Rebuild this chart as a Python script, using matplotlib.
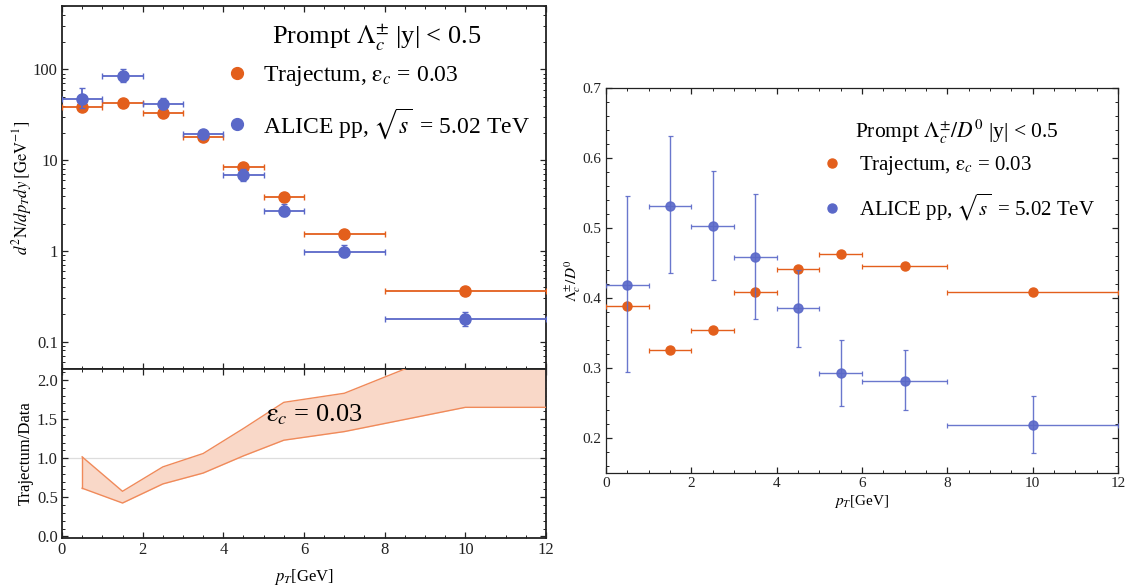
import matplotlib
matplotlib.use("Agg")
import matplotlib.pyplot as plt
from matplotlib.ticker import MultipleLocator, FixedLocator, LogLocator, NullFormatter, FormatStrFormatter
from matplotlib.lines import Line2D

plt.rcParams["font.family"] = ["Liberation Serif", "DejaVu Serif"]
plt.rcParams["mathtext.fontset"] = "stix"

# transverse-momentum bins
pt_centers = [0.5, 1.5, 2.5, 3.5, 4.5, 5.5, 7.0, 10.0]
pt_lo = [0, 1, 2, 3, 4, 5, 6, 8]
pt_hi = [1, 2, 3, 4, 5, 6, 8, 12]

# Lambda_c spectra  d2N/dpT dy [GeV^-1]
traj_yield = [38.5, 42.3, 32.8, 18.0, 8.45, 3.95, 1.54, 0.36]
alice_yield = [47.6, 84.5, 42.0, 19.3, 6.84, 2.75, 0.98, 0.178]
alice_yield_hi = [62.5, 101.0, 48.8, 21.0, 7.9, 3.3, 1.15, 0.215]
alice_yield_lo = [37.9, 72.6, 36.9, 17.6, 5.9, 2.4, 0.86, 0.147]

# Trajectum / data band
ratio_pt = [0.5, 1.5, 2.5, 3.5, 4.5, 5.5, 7.0, 10.0, 12.0]
ratio_lo = [0.616, 0.427, 0.671, 0.81, 1.03, 1.23, 1.34, 1.65, 1.65]
ratio_hi = [1.017, 0.577, 0.889, 1.06, 1.38, 1.714, 1.83, 2.45, 2.45]

# Lambda_c / D0 ratio
traj_ratio = [0.389, 0.325, 0.355, 0.409, 0.441, 0.463, 0.446, 0.409]
alice_ratio = [0.419, 0.532, 0.503, 0.458, 0.386, 0.293, 0.282, 0.218]
alice_ratio_hi = [0.545, 0.631, 0.582, 0.549, 0.440, 0.340, 0.326, 0.260]
alice_ratio_lo = [0.295, 0.436, 0.426, 0.370, 0.330, 0.246, 0.240, 0.179]

ORANGE = "#e35f1c"
BLUE = "#5a68c8"
BAND = "#f9d8c8"
BAND_EDGE = "#f08a5a"

EPS = r"$\mathrm{\epsilon}_c$"
labels = ["Trajectum, " + EPS + " = 0.03", r"ALICE pp, $\sqrt{s}\,$ = 5.02 TeV"]

W, H = 1130, 586
fig = plt.figure(figsize=(W / 100, H / 100), dpi=100)
ax1 = fig.add_axes([62 / W, 1 - 369 / H, 484 / W, 363 / H])
ax2 = fig.add_axes([62 / W, 1 - 538 / H, 484 / W, 169 / H])
ax3 = fig.add_axes([606 / W, 1 - 473 / H, 512 / W, 385 / H])

xerr_lo = [c - l for c, l in zip(pt_centers, pt_lo)]
xerr_hi = [h - c for c, h in zip(pt_centers, pt_hi)]


def style(ax, lw, size):
    for s in ax.spines.values():
        s.set_linewidth(lw)
        s.set_color("#222222")
    ax.tick_params(which="both", direction="in", top=True, right=True,
                   labelsize=size, pad=3, colors="#222222")
    ax.tick_params(which="major", length=4.5, width=0.9)
    ax.tick_params(which="minor", length=2.5, width=0.7)


# ---- spectra panel ----
ax1.errorbar(pt_centers, traj_yield, xerr=[xerr_lo, xerr_hi], fmt="o", color=ORANGE,
             ms=8, elinewidth=1.3, capsize=2, capthick=1.0, zorder=3)
ax1.errorbar(pt_centers, alice_yield, xerr=[xerr_lo, xerr_hi],
             yerr=[[a - l for a, l in zip(alice_yield, alice_yield_lo)],
                   [h - a for a, h in zip(alice_yield, alice_yield_hi)]],
             fmt="o", color=BLUE, ms=8, elinewidth=1.3, capsize=2, capthick=1.0,
             zorder=4)
ax1.set_yscale("log")
ax1.set_xlim(0, 12)
ax1.set_ylim(0.05, 500)
ax1.yaxis.set_major_locator(FixedLocator([0.1, 1, 10, 100]))
ax1.set_yticklabels(["0.1", "1", "10", "100"])
ax1.yaxis.set_minor_locator(LogLocator(base=10, subs=range(2, 10)))
ax1.yaxis.set_minor_formatter(NullFormatter())
ax1.xaxis.set_major_locator(MultipleLocator(2))
ax1.xaxis.set_minor_locator(MultipleLocator(0.5))
ax1.tick_params(labelbottom=False)
style(ax1, 1.3, 12)
ax1.set_ylabel(r"$d^2\mathrm{N}/dp_Tdy\;[\mathrm{GeV}^{-1}]$", fontsize=12)
ax1.yaxis.set_label_coords(-0.058, 0.5)

ax1.text(0.651, 0.912, r"Prompt $\Lambda_c^{\pm}$ |y| < 0.5", transform=ax1.transAxes,
         fontsize=19, ha="center", va="center")
handles = [Line2D([], [], ls="", marker="o", ms=8.5, color=ORANGE),
           Line2D([], [], ls="", marker="o", ms=8.5, color=BLUE)]
ax1.legend(handles, labels, loc="upper right", bbox_to_anchor=(0.966, 0.84),
           frameon=False, fontsize=17, labelspacing=0.75, handletextpad=0.6,
           handlelength=1.0, borderaxespad=0, borderpad=0)

# ---- ratio-to-data panel ----
ax2.axhline(1.0, color="#dddddd", lw=0.9, zorder=1)
ax2.fill_between(ratio_pt, ratio_lo, ratio_hi, color=BAND, lw=0, zorder=2)
ax2.plot(ratio_pt, ratio_lo, color=BAND_EDGE, lw=1.0, zorder=3)
ax2.plot(ratio_pt, ratio_hi, color=BAND_EDGE, lw=1.0, zorder=3)
ax2.plot([ratio_pt[0], ratio_pt[0]], [ratio_lo[0], ratio_hi[0]], color=BAND_EDGE, lw=1.0, zorder=3)
ax2.text(5.05, 1.55, EPS + " = 0.03", fontsize=19, ha="left", va="center", zorder=5)
ax2.set_xlim(0, 12)
ax2.set_ylim(-0.02, 2.14)
ax2.yaxis.set_major_locator(MultipleLocator(0.5))
ax2.yaxis.set_major_formatter(FormatStrFormatter("%.1f"))
ax2.yaxis.set_minor_locator(MultipleLocator(0.1))
ax2.xaxis.set_major_locator(MultipleLocator(2))
ax2.xaxis.set_minor_locator(MultipleLocator(0.5))
style(ax2, 1.3, 12)
ax2.set_ylabel("Trajectum/Data", fontsize=12)
ax2.yaxis.set_label_coords(-0.058, 0.5)
ax2.set_xlabel(r"$p_T$[GeV]", fontsize=12)
ax2.xaxis.set_label_coords(0.5, -0.17)

# ---- Lambda_c / D0 panel ----
ax3.errorbar(pt_centers, traj_ratio, xerr=[xerr_lo, xerr_hi], fmt="o", color=ORANGE,
             ms=6.5, elinewidth=1.0, capsize=1.8, capthick=0.9, zorder=3)
ax3.errorbar(pt_centers, alice_ratio, xerr=[xerr_lo, xerr_hi],
             yerr=[[a - l for a, l in zip(alice_ratio, alice_ratio_lo)],
                   [h - a for a, h in zip(alice_ratio, alice_ratio_hi)]],
             fmt="o", color=BLUE, ms=6.5, elinewidth=1.0, capsize=1.8, capthick=0.9,
             zorder=4, alpha=0.9)
ax3.set_xlim(0, 12)
ax3.set_ylim(0.15, 0.7)
ax3.yaxis.set_major_locator(MultipleLocator(0.1))
ax3.yaxis.set_major_formatter(FormatStrFormatter("%.1f"))
ax3.yaxis.set_minor_locator(MultipleLocator(0.02))
ax3.xaxis.set_major_locator(MultipleLocator(2))
ax3.xaxis.set_minor_locator(MultipleLocator(0.5))
style(ax3, 0.9, 11)
ax3.set_ylabel(r"$\Lambda_c^{\pm}/D^0$", fontsize=11)
ax3.yaxis.set_label_coords(-0.045, 0.5)
ax3.set_xlabel(r"$p_T$[GeV]", fontsize=11)
ax3.xaxis.set_label_coords(0.5, -0.052)

ax3.text(0.686, 0.887, r"Prompt $\Lambda_c^{\pm}/D^0$ |y| < 0.5", transform=ax3.transAxes,
         fontsize=15.5, ha="center", va="center")
handles3 = [Line2D([], [], ls="", marker="o", ms=6.5, color=ORANGE),
            Line2D([], [], ls="", marker="o", ms=6.5, color=BLUE)]
ax3.legend(handles3, labels, loc="upper right", bbox_to_anchor=(0.955, 0.828),
           frameon=False, fontsize=15, labelspacing=0.7, handletextpad=0.8,
           handlelength=1.0, borderaxespad=0, borderpad=0)

fig.savefig("out.png", dpi=100)
